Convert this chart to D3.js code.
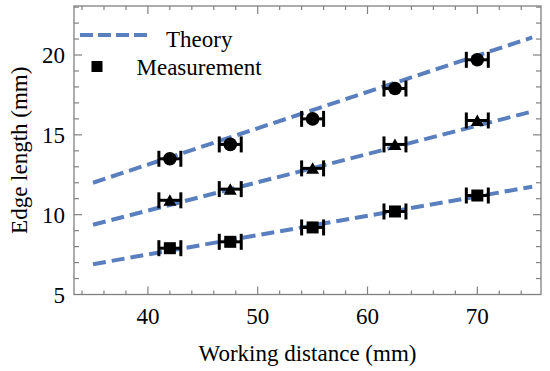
<!DOCTYPE html>
<html>
<head>
<meta charset="utf-8">
<script src="https://cdn.jsdelivr.net/npm/d3@7"></script>
<style>
  body { margin: 0; background: #fff; }
  text { font-family: "Liberation Serif", "Times New Roman", serif; }
</style>
</head>
<body>
<div id="chart"></div>
<script>
// measured points (mm)
const distances = [42, 47.5, 55, 62.5, 70];
const circleVals = [13.5, 14.4, 16.0, 17.9, 19.7];
const triangleVals = [10.9, 11.6, 12.9, 14.4, 15.9];
const squareVals = [7.9, 8.3, 9.2, 10.2, 11.2];
const xErr = 1;

// theory lines, end points
const theoryX = [35, 75];
const theoryCircle = [12.0, 21.1];
const theoryTriangle = [9.37, 16.46];
const theorySquare = [6.9, 11.75];

const xTicks = [40, 50, 60, 70];
const yTicks = [5, 10, 15, 20];

(function () {
  const W = 550, H = 371;
  const left = 74, right = 541, top = 6, bottom = 294.5;
  const blue = "#5a7fbe", frame = "#808080";

  const svg = d3.select("#chart").append("svg")
    .attr("width", W).attr("height", H);

  const x = d3.scaleLinear().domain([33.27, 75.8]).range([left, right]);
  const y = d3.scaleLinear().domain([5, 23.07]).range([bottom, top]);

  // frame
  svg.append("rect")
    .attr("x", left).attr("y", top)
    .attr("width", right - left).attr("height", bottom - top)
    .attr("fill", "none").attr("stroke", frame).attr("stroke-width", 1.3);

  // ticks (inward, all four sides)
  const xMinor = d3.range(34, 76, 2);
  const yMinor = d3.range(6, 24, 1);
  const tk = svg.append("g").attr("stroke", frame).attr("stroke-width", 1.2);
  xMinor.forEach(v => {
    const len = xTicks.includes(v) ? 8 : 4;
    tk.append("line").attr("x1", x(v)).attr("x2", x(v)).attr("y1", bottom).attr("y2", bottom - len);
    tk.append("line").attr("x1", x(v)).attr("x2", x(v)).attr("y1", top).attr("y2", top + len);
  });
  yMinor.forEach(v => {
    const len = yTicks.includes(v) ? 8 : 5;
    tk.append("line").attr("y1", y(v)).attr("y2", y(v)).attr("x1", left).attr("x2", left + len);
    tk.append("line").attr("y1", y(v)).attr("y2", y(v)).attr("x1", right).attr("x2", right - len);
  });

  // tick labels
  svg.append("g").selectAll("text").data(xTicks).join("text")
    .attr("x", d => x(d)).attr("y", 324)
    .attr("text-anchor", "middle").attr("font-size", 23)
    .text(d => d);
  svg.append("g").selectAll("text").data(yTicks).join("text")
    .attr("x", 65).attr("y", d => y(d) + 8)
    .attr("text-anchor", "end").attr("font-size", 23)
    .text(d => d);

  // axis titles
  svg.append("text")
    .attr("x", (left + right) / 2).attr("y", 361)
    .attr("text-anchor", "middle").attr("font-size", 23)
    .text("Working distance (mm)");
  svg.append("text")
    .attr("transform", `translate(27,${(top + bottom) / 2}) rotate(-90)`)
    .attr("text-anchor", "middle").attr("font-size", 23)
    .text("Edge length (mm)");

  // theory lines
  const line = d3.line().x(d => x(d[0])).y(d => y(d[1]));
  [theoryCircle, theoryTriangle, theorySquare].forEach(vals => {
    svg.append("path")
      .datum(theoryX.map((t, i) => [t, vals[i]]))
      .attr("d", line)
      .attr("fill", "none").attr("stroke", blue)
      .attr("stroke-width", 4).attr("stroke-dasharray", "13,6");
  });

  // error bars
  const groups = [
    { vals: circleVals, shape: "circle" },
    { vals: triangleVals, shape: "triangle" },
    { vals: squareVals, shape: "square" }
  ];
  groups.forEach(g => {
    const eb = svg.append("g").attr("stroke", "#000").attr("stroke-width", 3);
    distances.forEach((d, i) => {
      const cy = y(g.vals[i]);
      eb.append("line").attr("x1", x(d - xErr)).attr("x2", x(d + xErr)).attr("y1", cy).attr("y2", cy);
      [d - xErr, d + xErr].forEach(e => {
        eb.append("line").attr("x1", x(e)).attr("x2", x(e)).attr("y1", cy - 8).attr("y2", cy + 8);
      });
    });

    const pts = svg.append("g").attr("fill", "#000");
    distances.forEach((d, i) => {
      const cx = x(d), cy = y(g.vals[i]);
      if (g.shape === "circle") {
        pts.append("circle").attr("cx", cx).attr("cy", cy).attr("r", 6.8);
      } else if (g.shape === "square") {
        pts.append("rect").attr("x", cx - 6).attr("y", cy - 6).attr("width", 12).attr("height", 12);
      } else {
        pts.append("path")
          .attr("d", `M${cx},${cy - 6}L${cx + 6.5},${cy + 5.5}L${cx - 6.5},${cy + 5.5}Z`);
      }
    });
  });

  // legend
  svg.append("line")
    .attr("x1", 80).attr("x2", 150).attr("y1", 35).attr("y2", 35)
    .attr("stroke", blue).attr("stroke-width", 4).attr("stroke-dasharray", "13,5");
  svg.append("text").attr("x", 166).attr("y", 46.5).attr("font-size", 23).text("Theory");
  svg.append("rect").attr("x", 91.5).attr("y", 61).attr("width", 11).attr("height", 11).attr("fill", "#000");
  svg.append("text").attr("x", 136.5).attr("y", 75).attr("font-size", 23).text("Measurement");
})();
</script>
</body>
</html>
